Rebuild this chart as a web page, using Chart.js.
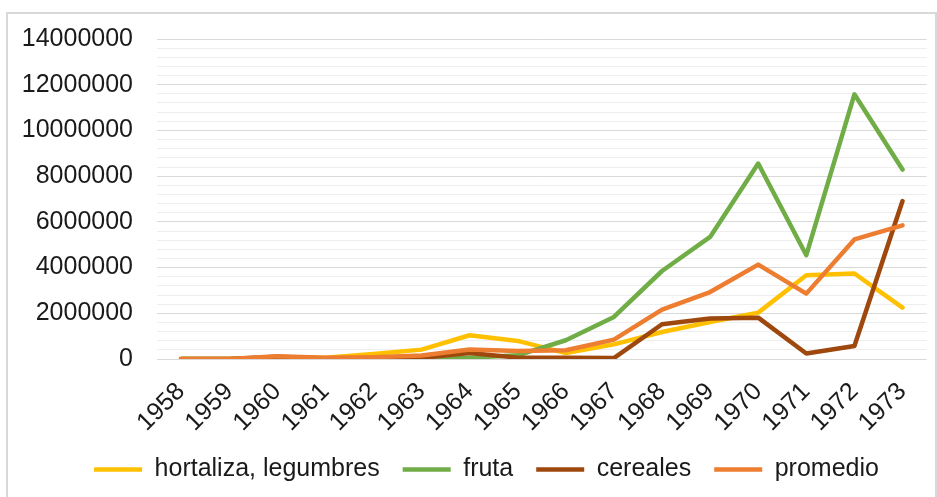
<!DOCTYPE html>
<html>
<head>
<meta charset="utf-8">
<script src="https://cdn.jsdelivr.net/npm/chart.js@4.4.1/dist/chart.umd.min.js"></script>
<style>
    html, body { margin: 0; padding: 0; background: #fff; overflow: hidden; }
    #frame {
        position: absolute; left: 6px; top: 12px;
        width: 927px; height: 490px;
        border: 2px solid #d9d9d9; border-bottom: none;
    }
    /* canvas runs a little past the frame so the plot can reach the right edge */
    #chartBox { position: relative; width: 934px; height: 483px; }
</style>
</head>
<body>
<div id="frame"><div id="chartBox"><canvas id="produccion"></canvas></div></div>
<script>
/* ---------- data ---------- */
const years = ['1958','1959','1960','1961','1962','1963','1964','1965',
               '1966','1967','1968','1969','1970','1971','1972','1973'];

const hortaliza = [0, 0, 80000, 60000, 220000, 410000, 1040000, 790000,
                   260000, 640000, 1180000, 1620000, 2030000, 3660000, 3740000, 2250000];
const fruta     = [0, 0, 0, 0, 0, 0, 60000, 160000,
                   820000, 1840000, 3850000, 5340000, 8550000, 4540000, 11580000, 8290000];
const cereales  = [0, 0, 100000, 20000, 30000, 50000, 260000, 60000,
                   60000, 40000, 1520000, 1770000, 1810000, 240000, 570000, 6910000];
const promedio  = [0, 0, 120000, 50000, 80000, 150000, 420000, 350000,
                   380000, 850000, 2160000, 2930000, 4130000, 2860000, 5230000, 5850000];

const yTicks = [0, 2000000, 4000000, 6000000, 8000000, 10000000, 12000000, 14000000];

/* ---------- style ---------- */
const FONT = { family: '"Liberation Sans", Arial, Helvetica, sans-serif', size: 25 };
const TEXT = '#1a1a1a';
const GRID_MAJOR = '#d9d9d9';
const GRID_MINOR = '#eeeeee';
const NONE = 'rgba(0,0,0,0)';

function lineSet(label, data, color, order) {
    return {
        label, data, order,
        borderColor: color,
        backgroundColor: color,
        borderWidth: 4.5,
        borderJoinStyle: 'round',
        borderCapStyle: 'round',
        pointRadius: 0,
        pointHoverRadius: 0,
        tension: 0,
        fill: false,
    };
}

// the legend in the reference sits a bit right of centre
const shiftLegend = {
    id: 'shiftLegend',
    afterLayout(chart) {
        if (!chart.legend) return;
        chart.legend.left += 12;
        chart.legend.right += 12;
    }
};

new Chart(document.getElementById('produccion'), {
    type: 'line',
    data: {
        labels: years,
        datasets: [
            lineSet('hortaliza, legumbres', hortaliza, '#ffc000', 4),
            lineSet('fruta', fruta, '#70ad47', 3),
            lineSet('cereales', cereales, '#9e480e', 2),
            lineSet('promedio', promedio, '#ed7d31', 1),
        ]
    },
    plugins: [shiftLegend],
    options: {
        responsive: true,
        maintainAspectRatio: false,
        animation: false,
        layout: { padding: { left: 8, right: 9, top: 10, bottom: 5 } },
        plugins: {
            tooltip: { enabled: false },
            legend: {
                position: 'bottom',
                labels: {
                    font: FONT,
                    color: TEXT,
                    usePointStyle: true,
                    pointStyle: 'line',
                    pointStyleWidth: 48,
                    padding: 23,
                    sort: (a, b) => a.datasetIndex - b.datasetIndex,
                }
            }
        },
        scales: {
            x: {
                offset: true,
                grid: { display: false, drawTicks: false },
                border: { display: false },
                ticks: {
                    font: FONT, color: TEXT,
                    minRotation: 45, maxRotation: 45,
                    autoSkip: false, padding: 18,
                },
                afterFit: axis => { axis.height = 75; }
            },
            yMinor: {
                position: 'left',
                min: 0, max: 14000000,
                grid: {
                    drawTicks: false,
                    color: ctx => (ctx.tick && ctx.tick.value % 2000000 === 0) ? NONE : GRID_MINOR,
                },
                border: { display: false },
                ticks: { display: false, stepSize: 400000 },
                afterFit: axis => { axis.width = 0; }
            },
            y: {
                position: 'left',
                min: 0, max: 14000000,
                afterBuildTicks: axis => { axis.ticks = yTicks.map(v => ({ value: v })); },
                grid: { color: GRID_MAJOR, drawTicks: true, tickLength: 14, tickColor: NONE },
                border: { display: false },
                ticks: { font: FONT, color: TEXT, padding: 10, callback: v => String(v) },
                afterFit: axis => { axis.width = 141; }
            }
        }
    }
});
</script>
</body>
</html>
